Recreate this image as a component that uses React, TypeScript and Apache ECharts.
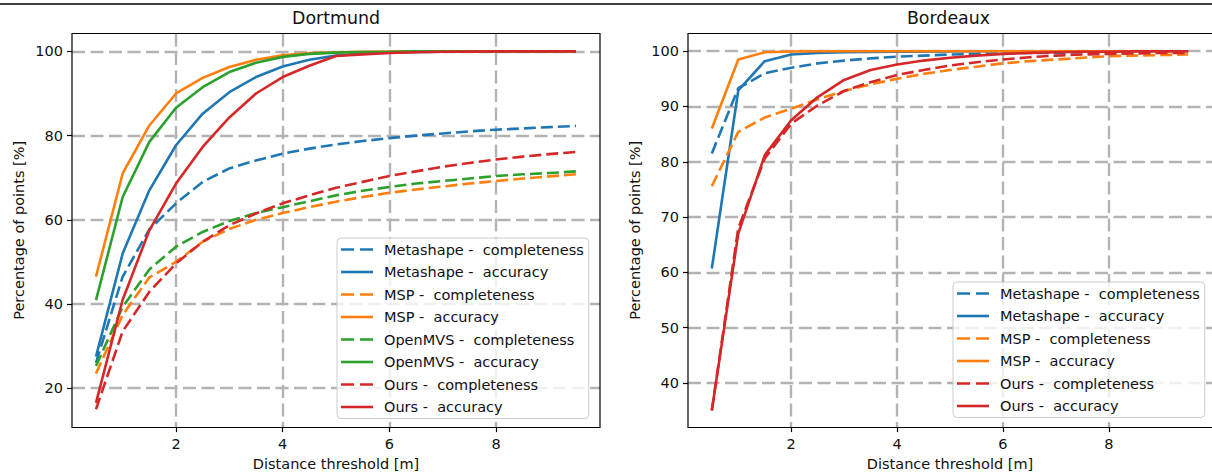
import React, { useEffect, useRef } from "react";
import * as echarts from "echarts";

// ---------- data ----------
const X = [0.5, 1.0, 1.5, 2.0, 2.5, 3.0, 3.5, 4.0, 4.5, 5.0, 5.5, 6.0, 6.5, 7.0, 7.5, 8.0, 8.5, 9.0, 9.5];

// Dortmund
const DORT_METASHAPE_COMP = [26.0, 46.5, 57.7, 63.9, 69.0, 72.2, 74.1, 75.7, 76.9, 77.9, 78.7, 79.4, 80.0, 80.5, 81.0, 81.4, 81.7, 82.0, 82.3];
const DORT_METASHAPE_ACC = [27.5, 52.0, 67.0, 77.7, 85.2, 90.3, 93.9, 96.4, 98.0, 99.0, 99.5, 99.7, 99.85, 99.9, 99.95, 100, 100, 100, 100];
const DORT_MSP_COMP = [23.5, 37.4, 46.3, 50.0, 54.8, 57.8, 60.0, 61.6, 63.0, 64.3, 65.4, 66.4, 67.2, 67.9, 68.6, 69.2, 69.8, 70.3, 70.8];
const DORT_MSP_ACC = [46.5, 71.0, 82.4, 90.0, 93.7, 96.3, 98.0, 99.1, 99.6, 99.8, 99.9, 99.95, 100, 100, 100, 100, 100, 100, 100];
const DORT_OPENMVS_COMP = [25.3, 39.3, 48.2, 53.6, 57.1, 59.7, 61.6, 63.0, 64.4, 65.8, 66.9, 67.8, 68.6, 69.2, 69.8, 70.4, 70.8, 71.1, 71.5];
const DORT_OPENMVS_ACC = [40.9, 65.4, 78.5, 86.6, 91.5, 95.1, 97.3, 98.7, 99.4, 99.7, 99.85, 99.9, 100, 100, 100, 100, 100, 100, 100];
const DORT_OURS_COMP = [15.0, 33.5, 42.9, 49.6, 54.8, 58.7, 61.5, 63.9, 65.8, 67.6, 69.0, 70.4, 71.5, 72.6, 73.5, 74.3, 75.0, 75.6, 76.1];
const DORT_OURS_ACC = [16.5, 41.0, 57.5, 68.6, 77.3, 84.3, 90.0, 93.9, 96.6, 98.9, 99.3, 99.6, 99.8, 99.9, 99.95, 100, 100, 100, 100];

// Bordeaux
const BORD_METASHAPE_COMP = [81.5, 93.3, 96.0, 97.0, 97.8, 98.3, 98.7, 99.0, 99.2, 99.4, 99.5, 99.6, 99.7, 99.7, 99.8, 99.8, 99.8, 99.9, 99.9];
const BORD_METASHAPE_ACC = [60.7, 92.9, 98.2, 99.4, 99.7, 99.8, 99.85, 99.9, 99.9, 99.95, 100, 100, 100, 100, 100, 100, 100, 100, 100];
const BORD_MSP_COMP = [75.6, 85.4, 88.0, 89.6, 91.3, 92.8, 94.0, 95.0, 95.9, 96.6, 97.2, 97.8, 98.2, 98.5, 98.8, 99.1, 99.2, 99.3, 99.4];
const BORD_MSP_ACC = [86.0, 98.5, 99.8, 99.95, 100, 100, 100, 100, 100, 100, 100, 100, 100, 100, 100, 100, 100, 100, 100];
const BORD_OURS_COMP = [35.0, 68.0, 80.6, 86.9, 90.2, 92.8, 94.4, 95.7, 96.6, 97.4, 98.0, 98.5, 98.9, 99.2, 99.4, 99.5, 99.6, 99.7, 99.7];
const BORD_OURS_ACC = [35.0, 67.0, 81.2, 87.5, 91.7, 94.8, 96.6, 97.6, 98.3, 98.8, 99.2, 99.5, 99.7, 99.8, 99.9, 99.9, 100, 100, 100];

const TITLES = ["Dortmund", "Bordeaux"];
const X_TICKS = [2, 4, 6, 8];
const Y_TICKS_LEFT = [20, 40, 60, 80, 100];
const Y_TICKS_RIGHT = [40, 50, 60, 70, 80, 90, 100];
const X_NAME = "Distance threshold [m]";
const Y_NAME = "Percentage of points [%]";

const COLORS: Record<string, string> = {
  Metashape: "#1f77b4",
  MSP: "#ff7f0e",
  OpenMVS: "#2ca02c",
  Ours: "#d62728",
};

const compName = (m: string) => `${m} -  completeness`;
const accName = (m: string) => `${m} -  accuracy`;

const DORT_SERIES: [string, string, number[], boolean][] = [
  ["Metashape", compName("Metashape"), DORT_METASHAPE_COMP, true],
  ["Metashape", accName("Metashape"), DORT_METASHAPE_ACC, false],
  ["MSP", compName("MSP"), DORT_MSP_COMP, true],
  ["MSP", accName("MSP"), DORT_MSP_ACC, false],
  ["OpenMVS", compName("OpenMVS"), DORT_OPENMVS_COMP, true],
  ["OpenMVS", accName("OpenMVS"), DORT_OPENMVS_ACC, false],
  ["Ours", compName("Ours"), DORT_OURS_COMP, true],
  ["Ours", accName("Ours"), DORT_OURS_ACC, false],
];

const BORD_SERIES: [string, string, number[], boolean][] = [
  ["Metashape", compName("Metashape"), BORD_METASHAPE_COMP, true],
  ["Metashape", accName("Metashape"), BORD_METASHAPE_ACC, false],
  ["MSP", compName("MSP"), BORD_MSP_COMP, true],
  ["MSP", accName("MSP"), BORD_MSP_ACC, false],
  ["Ours", compName("Ours"), BORD_OURS_COMP, true],
  ["Ours", accName("Ours"), BORD_OURS_ACC, false],
];

// ---------- layout / style ----------
const FONT = "DejaVu Sans";
const FS = 14.5;
const GRID_L = { left: 72, top: 33.5, width: 528, height: 394 };
const GRID_R = { left: 688, top: 33.5, width: 529, height: 394 };
const DASH_ICON = "path://M0,0h13v2.6H0z M19,0h13v2.6H19z";
const SOLID_ICON = "path://M0,0h32v2.6H0z";
const GRID_LINE = { color: "#b3b3b3", width: 2.4, type: [13, 5.5] as number[] };

function makeXAxis(gridIndex: number) {
  return {
    type: "value",
    gridIndex,
    min: 0.05,
    max: 9.95,
    minInterval: 2,
    maxInterval: 2,
    name: X_NAME,
    nameLocation: "middle",
    nameGap: 28,
    nameTextStyle: { fontFamily: FONT, fontSize: FS, color: "#111" },
    axisLine: { show: false },
    axisTick: { show: true, length: 5, customValues: X_TICKS, lineStyle: { color: "#000", width: 1.2 } },
    axisLabel: {
      customValues: X_TICKS,
      margin: 9,
      fontFamily: FONT,
      fontSize: FS,
      color: "#111",
      formatter: (v: number) => (Math.abs(v % 2) < 1e-9 ? String(v) : ""),
    },
    splitLine: { show: true, lineStyle: GRID_LINE },
  };
}

function makeYAxis(gridIndex: number, min: number, max: number, step: number, ticks: number[]) {
  return {
    type: "value",
    gridIndex,
    min,
    max,
    minInterval: step,
    maxInterval: step,
    name: Y_NAME,
    nameLocation: "middle",
    nameGap: 46,
    nameTextStyle: { fontFamily: FONT, fontSize: FS, color: "#111" },
    axisLine: { show: false },
    axisTick: { show: true, length: 5, customValues: ticks, lineStyle: { color: "#000", width: 1.2 } },
    axisLabel: {
      customValues: ticks,
      margin: 9,
      fontFamily: FONT,
      fontSize: FS,
      color: "#111",
      formatter: (v: number) => (Math.abs(v % step) < 1e-9 ? String(v) : ""),
    },
    splitLine: { show: true, lineStyle: GRID_LINE },
  };
}

function makeSeries(list: [string, string, number[], boolean][], axisIndex: number) {
  return list.map(([method, name, vals, dashed]) => ({
    type: "line",
    name,
    xAxisIndex: axisIndex,
    yAxisIndex: axisIndex,
    data: X.map((x, i) => [x, vals[i]]),
    symbol: "none",
    showSymbol: false,
    color: COLORS[method],
    itemStyle: { color: COLORS[method] },
    lineStyle: { color: COLORS[method], width: 2.6, type: dashed ? [12, 5] : "solid" },
    emphasis: { disabled: true },
  }));
}

function makeLegend(list: [string, string, number[], boolean][], left: number, top: number) {
  return {
    orient: "vertical",
    left,
    top,
    padding: [4, 5, 4, 4],
    itemWidth: 32,
    itemHeight: 14,
    itemGap: 7.5,
    backgroundColor: "rgba(255,255,255,0.8)",
    borderColor: "#cccccc",
    borderWidth: 1,
    borderRadius: 4,
    selectedMode: false,
    itemStyle: { borderWidth: 0 },
    textStyle: { fontFamily: FONT, fontSize: FS, color: "#111", lineHeight: 14, padding: [0, 0, 0, 6] },
    data: list.map(([, name, , dashed]) => ({ name, icon: dashed ? DASH_ICON : SOLID_ICON })),
  };
}

export default function App() {
  const ref = useRef<HTMLDivElement>(null);

  useEffect(() => {
    if (!ref.current) return;
    const chart = echarts.init(ref.current, null, { renderer: "svg" });
    const option = {
      animation: false,
      backgroundColor: "#ffffff",
      textStyle: { fontFamily: FONT },
      title: [
        {
          text: TITLES[0],
          left: GRID_L.left + GRID_L.width / 2,
          top: 9,
          padding: 0,
          textAlign: "center",
          textStyle: { fontFamily: FONT, fontSize: 17.4, fontWeight: "normal", color: "#111" },
        },
        {
          text: TITLES[1],
          left: GRID_R.left + GRID_R.width / 2 - 4,
          top: 9,
          padding: 0,
          textAlign: "center",
          textStyle: { fontFamily: FONT, fontSize: 17.4, fontWeight: "normal", color: "#111" },
        },
      ],
      grid: [
        { ...GRID_L, containLabel: false },
        { ...GRID_R, containLabel: false },
      ],
      xAxis: [makeXAxis(0), makeXAxis(1)],
      yAxis: [
        makeYAxis(0, 10.75, 104.25, 20, Y_TICKS_LEFT),
        makeYAxis(1, 32.0, 103.2, 10, Y_TICKS_RIGHT),
      ],
      legend: [makeLegend(DORT_SERIES, 337, 238), makeLegend(BORD_SERIES, 953, 282)],
      series: [...makeSeries(DORT_SERIES, 0), ...makeSeries(BORD_SERIES, 1)],
      graphic: [
        {
          type: "line",
          z: 100,
          shape: { x1: 0, y1: 4, x2: 1212, y2: 4 },
          style: { stroke: "#000", lineWidth: 1.6 },
        },
        {
          type: "rect",
          z: 100,
          shape: { x: GRID_L.left, y: GRID_L.top, width: GRID_L.width, height: GRID_L.height },
          style: { fill: "none", stroke: "#000", lineWidth: 1.2 },
        },
        {
          type: "rect",
          z: 100,
          shape: { x: GRID_R.left, y: GRID_R.top, width: GRID_R.width, height: GRID_R.height },
          style: { fill: "none", stroke: "#000", lineWidth: 1.2 },
        },
      ],
    };
    chart.setOption(option as any);
    return () => chart.dispose();
  }, []);

  return (
    <div
      ref={ref}
      style={{ position: "fixed", left: 0, top: 0, width: 1212, height: 476, overflow: "hidden", background: "#fff" }}
    />
  );
}
